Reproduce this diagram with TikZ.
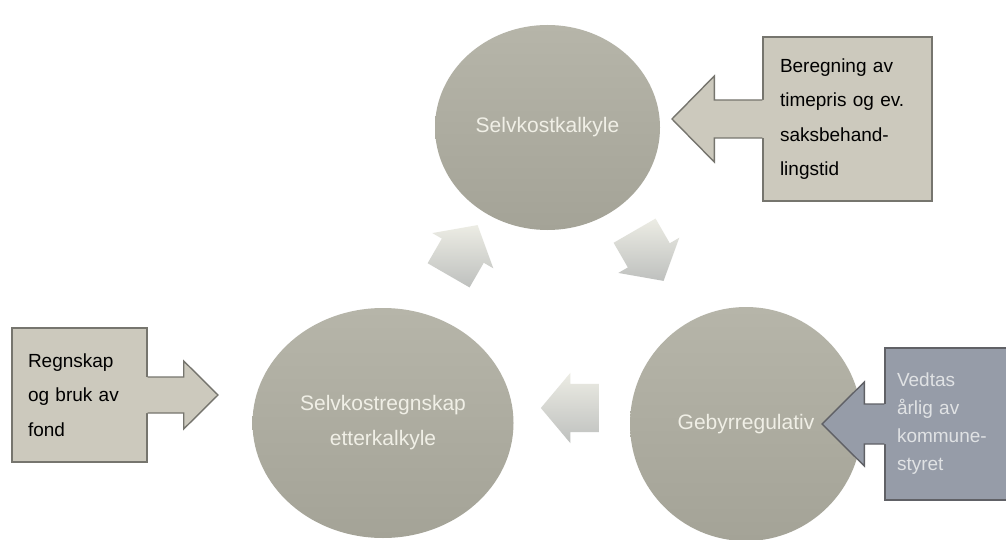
\documentclass[tikz,border=0pt]{standalone}
\usepackage{fontspec}
\setmainfont{Liberation Sans}
\usetikzlibrary{shapes.geometric,shapes.arrows,calc}

\definecolor{circtop}{RGB}{182,181,169}
\definecolor{circbot}{RGB}{164,163,151}
\definecolor{circtext}{RGB}{240,239,230}
\definecolor{boxfill}{RGB}{204,201,189}
\definecolor{boxedge}{RGB}{118,117,110}
\definecolor{bluefill}{RGB}{150,156,168}
\definecolor{blueedge}{RGB}{96,97,102}
\definecolor{bluetext}{RGB}{224,226,228}
\definecolor{cyclight}{RGB}{236,236,228}
\definecolor{cycdark}{RGB}{190,192,190}

\begin{document}
\begin{tikzpicture}[x=1pt, y=-1pt,
  phase/.style={ellipse, draw=none, top color=circtop, bottom color=circbot,
                text=circtext, align=center, inner sep=0pt,
                font=\fontsize{21}{35}\selectfont},
  infobox/.style={rectangle, fill=boxfill, draw=boxedge, line width=1.4pt,
                  align=left, inner sep=0pt, font=\fontsize{19}{34.5}\selectfont},
  bluebox/.style={infobox, fill=bluefill, draw=blueedge, text=bluetext,
                  font=\fontsize{19}{28}\selectfont},
  inedge/.style={draw=boxedge, line width=1.4pt},
  cycarrow/.style={single arrow, draw=none, minimum height=58pt,
                   inner xsep=0pt, inner ysep=24pt,
                   single arrow head extend=11pt, single arrow tip angle=100,
                   top color=cyclight, bottom color=cycdark},
]

% Canvas
\fill[white] (0,0) rectangle (1006,540);
\useasboundingbox (0,0) rectangle (1006,540);

% Cycle phases
\node[phase, minimum width=225pt, minimum height=205pt] (kalk) at (547.5,127.5) {Selvkostkalkyle};
\node[phase, minimum width=261pt, minimum height=230pt] (regn) at (383,423) {Selvkostregnskap\\etterkalkyle};
\node[phase, minimum width=232pt, minimum height=234pt] (geby) at (746,424) {Gebyrregulativ};

% Cycle arrows
\node[cycarrow, rotate=-60] (arrkg) at (644,247) {};
\node[cycarrow, rotate=180] (arrgr) at (580,408) {};
\node[cycarrow, rotate=60] (arrrk) at (458,259) {};

% Input: Selvkostkalkyle
\node[infobox, minimum width=169pt, minimum height=164pt, text width=135pt] (kalkbox)
  at (847.5,119) {Beregning av\\timepris og ev.\\saksbehand-\\lingstid};
\coordinate (kalktip) at (672,119);
\fill[boxfill] ($(kalkbox.west)+(2,-19)$) -- ++(-50,0) -- ++(0,-24) -- (kalktip)
  -- ($(kalkbox.west)+(-48,43)$) -- ++(0,-24) -- ++(50,0) -- cycle;
\draw[inedge] ($(kalkbox.west)+(0,-19)$) -- ++(-48,0) -- ++(0,-24) -- (kalktip)
  -- ($(kalkbox.west)+(-48,43)$) -- ++(0,-24) -- ++(48,0);

% Input: Selvkostregnskap
\node[infobox, minimum width=135pt, minimum height=134pt, text width=103pt] (fondbox)
  at (79.5,395) {Regnskap\\og bruk av\\fond};
\coordinate (fondtip) at (218,395);
\fill[boxfill] ($(fondbox.east)+(-2,-18)$) -- ++(38,0) -- ++(0,-16) -- (fondtip)
  -- ($(fondbox.east)+(36,34)$) -- ++(0,-16) -- ++(-38,0) -- cycle;
\draw[inedge] ($(fondbox.east)+(0,-18)$) -- ++(36,0) -- ++(0,-16) -- (fondtip)
  -- ($(fondbox.east)+(36,34)$) -- ++(0,-16) -- ++(-36,0);

% Input: Gebyrregulativ
\node[bluebox, minimum width=130pt, minimum height=152pt, text width=106pt] (vedtbox)
  at (950,424) {Vedtas\\årlig av\\kommune-\\styret\\[-14pt]};
\coordinate (vedttip) at (822,424);
\fill[bluefill] ($(vedtbox.west)+(2,-20)$) -- ++(-22,0) -- ++(0,-22) -- (vedttip)
  -- ($(vedtbox.west)+(-20,42)$) -- ++(0,-22) -- ++(22,0) -- cycle;
\draw[inedge, draw=blueedge] ($(vedtbox.west)+(0,-20)$) -- ++(-20,0) -- ++(0,-22) -- (vedttip)
  -- ($(vedtbox.west)+(-20,42)$) -- ++(0,-22) -- ++(20,0);

\end{tikzpicture}
\end{document}
